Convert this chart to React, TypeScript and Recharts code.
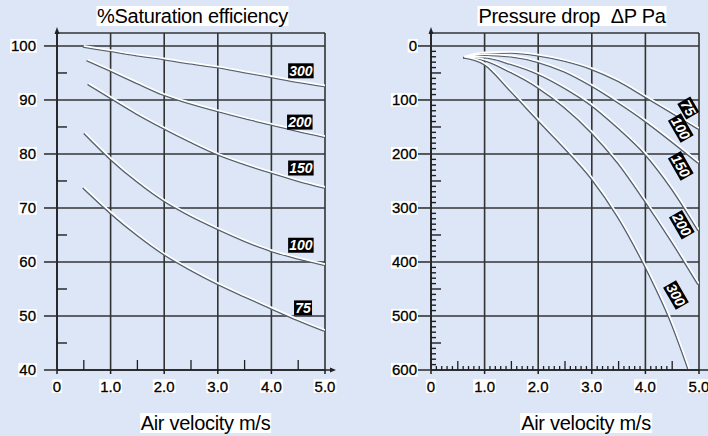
import React, { useLayoutEffect, useRef, useState } from 'react';
import { LineChart, Line, XAxis, YAxis, CartesianGrid, ReferenceDot } from 'recharts';

const BG = '#dce6f6';
const FONT = '"Liberation Sans", Arial, Helvetica, sans-serif';
const GRID = '#333333';

// Shared x axis
const velocityTicks = [0, 1, 2, 3, 4, 5];
const velocityTickLabels = ['0', '1.0', '2.0', '3.0', '4.0', '5.0'];
const velocityHalfTicks = [0.5, 1.5, 2.5, 3.5, 4.5];

// ---- Saturation efficiency (%) ----
const satTicks = [40, 50, 60, 70, 80, 90, 100];
const satMinorTicks = [45, 55, 65, 75, 85, 95];
const satTop = 102.4;

const satVel300 = [0.5, 1.0, 1.5, 2.0, 2.5, 3.0, 3.5, 4.0, 4.5, 5.0];
const sat300 = [100, 99.2, 98.4, 97.7, 96.9, 96.2, 95.3, 94.4, 93.5, 92.7];
const satVel200 = [0.57, 1.0, 1.5, 2.0, 2.5, 3.0, 3.5, 4.0, 4.5, 5.0];
const sat200 = [97.5, 95.6, 93.3, 91.1, 89.5, 88.1, 86.8, 85.6, 84.4, 83.3];
const satVel150 = [0.59, 1.0, 1.5, 2.0, 2.5, 3.0, 3.5, 4.0, 4.5, 5.0];
const sat150 = [93.1, 90.6, 87.6, 84.9, 82.4, 80.1, 78.3, 76.7, 75.2, 73.9];
const satVel100 = [0.52, 1.0, 1.5, 2.0, 2.5, 3.0, 3.5, 4.0, 4.5, 5.0];
const sat100 = [84.0, 79.3, 75.1, 71.5, 68.7, 66.3, 64.1, 62.2, 60.8, 59.6];
const satVel75 = [0.5, 1.0, 1.5, 2.0, 2.5, 3.0, 3.5, 4.0, 4.5, 5.0];
const sat75 = [73.9, 69.3, 65.2, 61.6, 58.7, 56.1, 53.8, 51.6, 49.4, 47.4];

const satCurveLabels = ['300', '200', '150', '100', '75'];
const satCurveLabelV = [4.55, 4.53, 4.55, 4.55, 4.59];
const satCurveLabelY = [95.4, 85.9, 77.4, 63.1, 51.5];

// ---- Pressure drop (Pa) ----
const pdTicks = [0, 100, 200, 300, 400, 500, 600];
const pdTop = -24;

const pdVel = [0.62, 1.0, 1.5, 2.0, 2.5, 3.0, 3.5, 4.0, 4.5, 5.0];
const pdVel300 = [0.62, 1.0, 1.5, 2.0, 2.5, 3.0, 3.5, 4.0, 4.5, 4.82];
const pd75 = [20, 12, 11, 16, 26, 41, 63, 92, 122, 152];
const pd100 = [20, 15, 18, 28, 46, 72, 103, 137, 175, 215];
const pd150 = [20, 20, 32, 50, 76, 108, 150, 198, 262, 340];
const pd200 = [20, 25, 47, 75, 112, 158, 215, 285, 360, 440];
const pd300 = [20, 32, 82, 135, 187, 243, 315, 405, 512, 598];

const pdCurveLabels = ['75', '100', '150', '200', '300'];
const pdCurveLabelV = [4.8, 4.66, 4.66, 4.68, 4.57];
const pdCurveLabelP = [115, 152, 222, 331, 461];

const toPoints = (xs: number[], ys: number[]) => xs.map((v, i) => ({ v, y: ys[i] }));

const satSeries = [
  toPoints(satVel300, sat300),
  toPoints(satVel200, sat200),
  toPoints(satVel150, sat150),
  toPoints(satVel100, sat100),
  toPoints(satVel75, sat75),
];
const pdSeries = [
  toPoints(pdVel, pd75),
  toPoints(pdVel, pd100),
  toPoints(pdVel, pd150),
  toPoints(pdVel, pd200),
  toPoints(pdVel300, pd300),
];

const pdMinorShort: number[] = [];
const pdMinorLong: number[] = [];
for (let p = 10; p < 600; p += 10) {
  if (p % 100 === 0) continue;
  if (p % 50 === 0) pdMinorLong.push(p);
  else pdMinorShort.push(p);
}
const velMinor: number[] = [];
for (let i = 1; i <= 45; i++) if (i % 10 !== 0) velMinor.push(i / 10);

const CSS = `.recharts-line-curve{filter:drop-shadow(-0.4px 1px 0 #56616e);}`;

function BoxText({ x, y, anchor, dy, size, text }: any) {
  const ref = useRef<SVGTextElement>(null);
  const [bb, setBb] = useState<any>(null);
  useLayoutEffect(() => {
    const el = ref.current;
    if (!el) return;
    const b = el.getBBox();
    setBb((prev: any) =>
      prev && prev.x === b.x && prev.y === b.y && prev.w === b.width && prev.h === b.height
        ? prev
        : { x: b.x, y: b.y, w: b.width, h: b.height }
    );
  });
  return (
    <g>
      {bb && (
        <rect x={bb.x - 1} y={bb.y + bb.h * 0.1} width={bb.w + 2} height={bb.h * 0.8} fill="#fff" />
      )}
      <text
        ref={ref}
        x={x}
        y={y}
        dy={dy}
        textAnchor={anchor}
        fontSize={size}
        fontFamily={FONT}
        fill="#000"
        stroke="#000"
        strokeWidth={0.3}
      >
        {text}
      </text>
    </g>
  );
}

const XTick = (props: any) => {
  const { x, y, payload } = props;
  const i = velocityTicks.indexOf(payload.value);
  return <BoxText x={x} y={y} anchor="middle" dy="0.71em" size={15} text={velocityTickLabels[i]} />;
};

const YTick = (props: any) => {
  const { x, y, payload } = props;
  return <BoxText x={x} y={y} anchor="end" dy="0.36em" size={15} text={String(payload.value)} />;
};

const CurveTag = ({ cx, cy, text, rotate }: any) => {
  const w = text.length * 7.5 + 3;
  return (
    <g transform={rotate ? `rotate(${rotate} ${cx} ${cy})` : undefined}>
      <rect x={cx - w / 2} y={cy - 7.5} width={w} height={15} fill="#000" />
      <text
        x={cx}
        y={cy}
        dy="0.36em"
        textAnchor="middle"
        fill="#fff"
        fontSize={14}
        fontWeight="bold"
        fontStyle="italic"
        fontFamily={FONT}
      >
        {text}
      </text>
    </g>
  );
};

const UpArrow = ({ cx, cy }: any) => (
  <g>
    <line x1={cx} y1={cy} x2={cx} y2={cy - 2} stroke="#222" strokeWidth={1.5} />
    <polygon points={`${cx},${cy - 6} ${cx - 2.5},${cy + 1} ${cx + 2.5},${cy + 1}`} fill="#222" />
  </g>
);

const RightExt = (len: number, arrow: boolean) => ({ cx, cy }: any) => (
  <g>
    <line x1={cx} y1={cy} x2={cx + len} y2={cy} stroke="#222" strokeWidth={1.5} />
    {arrow && (
      <polygon points={`${cx + len + 5},${cy} ${cx + len - 1},${cy - 2.5} ${cx + len - 1},${cy + 2.5}`} fill="#222" />
    )}
  </g>
);

const HTick = (len: number) => ({ cx, cy }: any) => (
  <line x1={cx} y1={cy} x2={cx + len} y2={cy} stroke="#1e1e1e" strokeWidth={1.4} />
);
const VTick = (len: number) => ({ cx, cy }: any) => (
  <line x1={cx} y1={cy} x2={cx} y2={cy - len} stroke="#1e1e1e" strokeWidth={1.3} />
);

function SatChart() {
  return (
    <LineChart width={354} height={436} margin={{ top: 33, right: 29, left: 0, bottom: 36 }}>
      <CartesianGrid stroke={GRID} strokeWidth={1.6} />
      <XAxis
        dataKey="v"
        type="number"
        domain={[0, 5]}
        ticks={velocityTicks}
        allowDataOverflow
        height={30}
        tickSize={4}
        tickMargin={7}
        axisLine={{ stroke: '#1e1e1e', strokeWidth: 1.6 }}
        tickLine={{ stroke: '#1e1e1e', strokeWidth: 1.5 }}
        tick={(p: any) => <XTick {...p} />}
      />
      <YAxis
        type="number"
        domain={[40, satTop]}
        ticks={satTicks}
        allowDataOverflow
        width={57}
        tickSize={13}
        tickMargin={8}
        axisLine={{ stroke: '#1e1e1e', strokeWidth: 1.6 }}
        tickLine={{ stroke: GRID, strokeWidth: 1.6 }}
        tick={(p: any) => <YTick {...p} />}
      />
      {satMinorTicks.map((t) => (
        <ReferenceDot key={'sm' + t} x={0} y={t} ifOverflow="visible" shape={HTick(10)} />
      ))}
      {velocityHalfTicks.map((t) => (
        <ReferenceDot key={'sv' + t} x={t} y={40} ifOverflow="visible" shape={VTick(10)} />
      ))}
      {satSeries.map((d, i) => (
        <Line
          key={'s' + i}
          data={d}
          dataKey="y"
          type="monotone"
          stroke="#ffffff"
          strokeWidth={1.7}
          dot={false}
          activeDot={false}
          isAnimationActive={false}
        />
      ))}
      {satCurveLabels.map((t, i) => (
        <ReferenceDot
          key={'sl' + t}
          x={satCurveLabelV[i]}
          y={satCurveLabelY[i]}
          ifOverflow="visible"
          shape={(p: any) => <CurveTag cx={p.cx} cy={p.cy} text={t} />}
        />
      ))}
      <ReferenceDot x={0} y={satTop} ifOverflow="visible" shape={UpArrow} />
      <ReferenceDot x={5} y={40} ifOverflow="visible" shape={RightExt(6, true)} />
    </LineChart>
  );
}

function PdChart() {
  return (
    <LineChart width={354} height={436} margin={{ top: 33, right: 9, left: 0, bottom: 36 }}>
      <CartesianGrid stroke={GRID} strokeWidth={1.6} />
      <XAxis
        dataKey="v"
        type="number"
        domain={[0, 5]}
        ticks={velocityTicks}
        allowDataOverflow
        height={30}
        tickSize={4}
        tickMargin={7}
        axisLine={{ stroke: '#1e1e1e', strokeWidth: 1.6 }}
        tickLine={{ stroke: '#1e1e1e', strokeWidth: 1.5 }}
        tick={(p: any) => <XTick {...p} />}
      />
      <YAxis
        type="number"
        reversed
        domain={[pdTop, 600]}
        ticks={pdTicks}
        allowDataOverflow
        width={77}
        tickSize={13}
        tickMargin={1}
        axisLine={{ stroke: '#1e1e1e', strokeWidth: 1.6 }}
        tickLine={{ stroke: GRID, strokeWidth: 1.6 }}
        tick={(p: any) => <YTick {...p} />}
      />
      {pdMinorShort.map((t) => (
        <ReferenceDot key={'ps' + t} x={0} y={t} ifOverflow="visible" shape={HTick(5)} />
      ))}
      {pdMinorLong.map((t) => (
        <ReferenceDot key={'pl' + t} x={0} y={t} ifOverflow="visible" shape={HTick(10)} />
      ))}
      {velMinor.map((t) => (
        <ReferenceDot
          key={'pv' + t}
          x={t}
          y={600}
          ifOverflow="visible"
          shape={VTick(Math.abs(t * 10 - 5 * Math.round(t * 2)) < 0.01 ? 9 : 4)}
        />
      ))}
      {pdSeries.map((d, i) => (
        <Line
          key={'p' + i}
          data={d}
          dataKey="y"
          type="monotone"
          stroke="#ffffff"
          strokeWidth={1.7}
          dot={false}
          activeDot={false}
          isAnimationActive={false}
        />
      ))}
      {pdCurveLabels.map((t, i) => (
        <ReferenceDot
          key={'lab' + t}
          x={pdCurveLabelV[i]}
          y={pdCurveLabelP[i]}
          ifOverflow="visible"
          shape={(p: any) => <CurveTag cx={p.cx} cy={p.cy} text={t} rotate={60} />}
        />
      ))}
      <ReferenceDot x={0} y={pdTop} ifOverflow="visible" shape={UpArrow} />
      <ReferenceDot x={5} y={600} ifOverflow="visible" shape={RightExt(10, false)} />
    </LineChart>
  );
}

const Caption = ({ cx, top, text }: any) => (
  <div
    style={{
      position: 'absolute',
      left: cx,
      top,
      transform: 'translateX(-50%)',
      background: '#fff',
      fontFamily: FONT,
      fontSize: 20,
      letterSpacing: '-0.3px',
      lineHeight: '20px',
      padding: '0 1px',
      whiteSpace: 'pre',
      color: '#000',
    }}
  >
    {text}
  </div>
);

export default function App() {
  return (
    <div
      style={{
        position: 'absolute',
        left: 0,
        top: 0,
        width: 708,
        height: 436,
        background: BG,
        overflow: 'hidden',
      }}
    >
      <style>{CSS}</style>
      <div style={{ position: 'absolute', left: 0, top: 0 }}>
        <SatChart />
      </div>
      <div style={{ position: 'absolute', left: 354, top: 0 }}>
        <PdChart />
      </div>
      <Caption cx={192.5} top={6} text="%Saturation efficiency" />
      <Caption cx={572} top={6} text={'Pressure drop  \u0394P Pa'} />
      <Caption cx={205.5} top={413} text="Air velocity m/s" />
      <Caption cx={586} top={413} text="Air velocity m/s" />
    </div>
  );
}
